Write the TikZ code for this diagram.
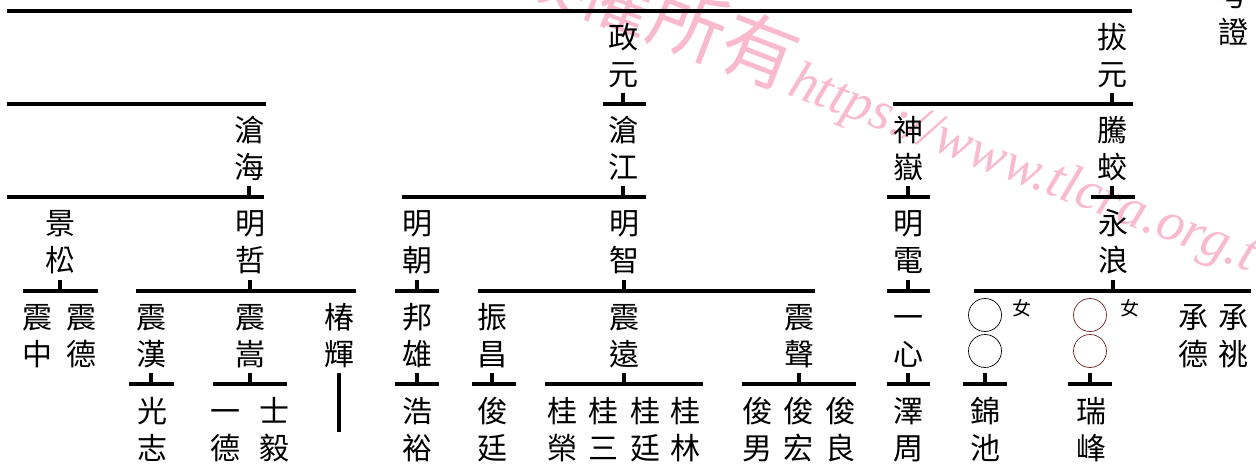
\documentclass[tikz,border=0pt]{standalone}
\usepackage{fontspec}
\newfontfamily\cjk{Noto Sans CJK TC}
\newfontfamily\wmfont{Liberation Serif}
\definecolor{wmpink}{RGB}{249,186,206}
\definecolor{ringred}{RGB}{112,36,36}
\tikzset{
  person/.style={align=center, inner sep=0pt, font=\cjk\fontsize{30}{37}\selectfont,
    text height=64pt, text depth=4pt},
  bar/.style={line width=3.2pt},
  ring/.style={circle, draw, line width=0.7pt, minimum size=33pt, inner sep=0pt},
  tag/.style={inner sep=0pt, font=\cjk\fontsize{19}{19}\selectfont},
  watermark/.style={text=wmpink, inner sep=0pt, rotate=-21}
}
\begin{document}
\begin{tikzpicture}[x=1pt, y=-1pt]
	\useasboundingbox (0,0) rectangle (1256,473);

	% watermark
	\node[watermark, font=\cjk\fontsize{76}{76}\selectfont] (wmcjk) at (654,10) {版權所有};
	\node[watermark, anchor=base west, font=\wmfont\itshape\fontsize{55}{55}\selectfont] (wmurl) at (786,94) {https://www.tlcra.org.tw};

	\node[person] (kaozheng) at (1233,14) {考\\證};

	% generation 1
	\node[person] (zhengyuan) at (623,56) {政\\元};
	\node[person] (bayuan) at (1112,56) {拔\\元};

	% generation 2
	\node[person] (canghai) at (249,149) {滄\\海};
	\node[person] (cangjiang) at (623,149) {滄\\江};
	\node[person] (shenyue) at (908,149) {神\\嶽};
	\node[person] (tengjiao) at (1112,149) {騰\\蛟};

	% generation 3
	\node[person] (jingsong) at (60,242) {景\\松};
	\node[person] (mingzhe) at (250,242) {明\\哲};
	\node[person] (mingchao) at (417,242) {明\\朝};
	\node[person] (mingzhi) at (624,242) {明\\智};
	\node[person] (mingdian) at (908,242) {明\\電};
	\node[person] (yonglang) at (1113,242) {永\\浪};

	% generation 4
	\node[person] (zhenzhong) at (37,335) {震\\中};
	\node[person] (zhende) at (81,335) {震\\德};
	\node[person] (zhenhan) at (151,335) {震\\漢};
	\node[person] (zhensong) at (250,335) {震\\嵩};
	\node[person] (chunhui) at (339,335) {椿\\輝};
	\node[person] (bangxiong) at (417,335) {邦\\雄};
	\node[person] (zhenchang) at (492,335) {振\\昌};
	\node[person] (zhenyuan) at (624,335) {震\\遠};
	\node[person] (zhensheng) at (799,335) {震\\聲};
	\node[person] (yixin) at (908,335) {一\\心};
	\node[ring] (nvA) at (985,315) {};
	\node[ring] (nvB) at (985,351) {};
	\node[tag] (nvtagA) at (1022,308) {女};
	\node[ring, draw=ringred] (nvC) at (1090,315) {};
	\node[ring, draw=ringred] (nvD) at (1090,351) {};
	\node[tag] (nvtagB) at (1130,308) {女};
	\node[person] (chengde) at (1193,335) {承\\德};
	\node[person] (chengtiao) at (1233,335) {承\\祧};

	% generation 5
	\node[person] (guangzhi) at (152,429) {光\\志};
	\node[person] (yide) at (225,429) {一\\德};
	\node[person] (shiyi) at (274,429) {士\\毅};
	\node[person] (haoyu) at (417,429) {浩\\裕};
	\node[person] (junting) at (492,429) {俊\\廷};
	\foreach \x/\n/\s in {562/guirong/榮, 603/guisan/三, 645/guiting/廷, 685/guilin/林}
		\node[person] (\n) at (\x,429) {桂\\\s};
	\foreach \x/\n/\s in {757/junnan/男, 798/junhong/宏, 840/junliang/良}
		\node[person] (\n) at (\x,429) {俊\\\s};
	\node[person] (zezhou) at (908,429) {澤\\周};
	\node[person] (jinchi) at (985,429) {錦\\池};
	\node[person] (ruifeng) at (1091,429) {瑞\\峰};

	% bars
	\draw[bar] (7,11) -- (1132,11);
	\draw[bar] (7,104) -- (266,104);
	\draw[bar] (603,104) -- (646,104);
	\draw[bar] (893,104) -- (1133,104);
	\draw[bar] (7,197) -- (264,197);
	\draw[bar] (402,197) -- (646,197);
	\draw[bar] (887,197) -- (930,197);
	\draw[bar] (1091,197) -- (1135,197);
	\draw[bar] (23,291) -- (98,291);
	\draw[bar] (136,291) -- (356,291);
	\draw[bar] (395,291) -- (439,291);
	\draw[bar] (478,291) -- (815,291);
	\draw[bar] (887,291) -- (930,291);
	\draw[bar] (974,291) -- (1251,291);
	\draw[bar] (129,384) -- (174,384);
	\draw[bar] (213,384) -- (287,384);
	\draw[bar] (395,384) -- (439,384);
	\draw[bar] (472,384) -- (516,384);
	\draw[bar] (545,384) -- (703,384);
	\draw[bar] (742,384) -- (856,384);
	\draw[bar] (887,384) -- (930,384);
	\draw[bar] (963,384) -- (1007,384);
	\draw[bar] (1068,384) -- (1112,384);

	% ticks
	\foreach \p in {zhengyuan,bayuan}
		\draw[bar] (\p |- 0,93) -- (\p |- 0,104);
	\foreach \p in {canghai,cangjiang,shenyue,tengjiao}
		\draw[bar] (\p |- 0,186) -- (\p |- 0,197);
	\foreach \p in {jingsong,mingzhe,mingchao,mingzhi,mingdian,yonglang}
		\draw[bar] (\p |- 0,280) -- (\p |- 0,291);
	\foreach \p in {zhenhan,zhensong,bangxiong,zhenchang,zhenyuan,zhensheng,yixin,nvB,nvD}
		\draw[bar] (\p |- 0,373) -- (\p |- 0,384);
	\draw[bar] (chunhui |- 0,373) -- (chunhui |- 0,432);

\end{tikzpicture}
\end{document}
